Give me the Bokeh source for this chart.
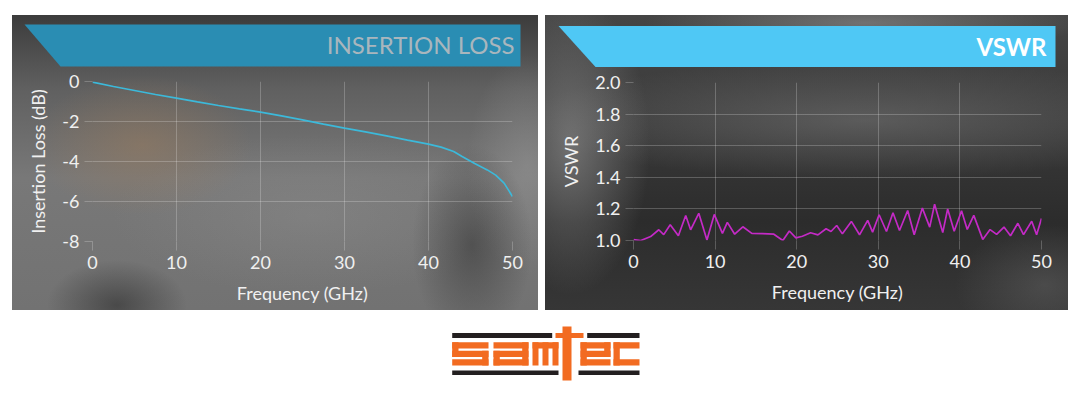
from bokeh.plotting import figure
from bokeh.models import Range1d, FixedTicker, PrintfTickFormatter, Spacer, Column, Row
from bokeh.core.properties import value
from bokeh.embed import file_html
from bokeh.resources import INLINE

# ---------------- data ----------------
freq_il = [0, 2.5, 5, 7.5, 10, 12.5, 15, 17.5, 20, 22.5, 25, 27.5, 30, 32.5,
           35, 37.5, 40, 41.5, 43, 44, 45.5, 47, 48, 49, 50]
insertion_loss = [-0.03, -0.25, -0.45, -0.65, -0.83, -1.02, -1.2, -1.37, -1.53,
                  -1.72, -1.92, -2.13, -2.33, -2.52, -2.72, -2.93, -3.13, -3.28,
                  -3.5, -3.75, -4.1, -4.42, -4.68, -5.08, -5.75]

freq_vswr = [0, 0.9, 2.1, 3.1, 3.7, 4.5, 5.5, 6.4, 7.0, 8.0, 9.0, 9.9, 10.9, 11.5,
             12.4, 13.4, 14.5, 15.8, 17.2, 18.3, 19.1, 19.9, 20.7, 21.7, 22.6, 23.6,
             24.2, 24.9, 25.6, 26.7, 27.7, 28.7, 29.3, 30.1, 31.0, 31.8, 32.6, 33.6,
             34.4, 35.4, 36.3, 36.9, 37.9, 38.5, 39.3, 40.2, 40.9, 41.7, 42.8, 43.7,
             44.5, 45.4, 46.2, 47.1, 47.8, 48.8, 49.4, 50.0]
vswr = [1.005, 1.0, 1.025, 1.068, 1.037, 1.10, 1.03, 1.158, 1.068, 1.172, 1.003,
        1.165, 1.045, 1.115, 1.04, 1.087, 1.045, 1.044, 1.04, 1.0, 1.06, 1.017,
        1.027, 1.049, 1.036, 1.074, 1.057, 1.095, 1.042, 1.121, 1.036, 1.127,
        1.053, 1.163, 1.057, 1.176, 1.063, 1.19, 1.036, 1.205, 1.085, 1.23, 1.05,
        1.2, 1.058, 1.188, 1.07, 1.159, 1.007, 1.069, 1.039, 1.085, 1.03, 1.109,
        1.037, 1.122, 1.037, 1.14]

x_ticks = [0, 10, 20, 30, 40, 50]
il_ticks = [-8, -6, -4, -2, 0]
vswr_ticks = [1.0, 1.2, 1.4, 1.6, 1.8, 2.0]
panel_titles = ["INSERTION LOSS", "VSWR"]
x_label = "Frequency (GHz)"
y_labels = ["Insertion Loss (dB)", "VSWR"]
logo_text = "samtec"

# ---------------- style ----------------
FONT = "Lato"
GRID = "rgba(255,255,255,0.22)"
LABEL = "#f0f0f0"


def no_align(p):
    if "frame_align" in p.properties():
        p.frame_align = False


def banner(width, height, pts, fill, title, tcolor, tx, ty, weight):
    p = figure(width=width, height=height, x_range=Range1d(0, width),
               y_range=Range1d(0, height), toolbar_location=None,
               output_backend="svg", min_border=0,
               x_axis_location=None, y_axis_location=None)
    no_align(p)
    p.grid.visible = False
    p.outline_line_color = None
    p.background_fill_color = None
    p.border_fill_color = None
    xs = [q[0] for q in pts]
    ys = [height - q[1] for q in pts]
    p.patch(xs, ys, fill_color=fill, line_color=None)
    p.text(x=[tx], y=[height - ty], text=[title], text_font=value(FONT),
           text_font_size="24px", text_color=tcolor, text_align="right",
           text_baseline="middle", text_font_style=weight)
    return p


def chart(width, height, xs, ys, yrange, yticks, yfmt, ylabel, color, borders):
    p = figure(width=width, height=height, x_range=Range1d(0, 50),
               y_range=Range1d(*yrange), toolbar_location=None,
               output_backend="svg",
               min_border_left=borders[0], min_border_right=borders[1],
               min_border_top=borders[2], min_border_bottom=borders[3])
    no_align(p)
    p.outline_line_color = None
    p.background_fill_color = None
    p.border_fill_color = None
    p.line(xs, ys, line_color=color, line_width=1.7)

    xa = p.xaxis[0]
    ya = p.yaxis[0]
    xa.ticker = FixedTicker(ticks=x_ticks)
    ya.ticker = FixedTicker(ticks=yticks)
    ya.formatter = PrintfTickFormatter(format=yfmt)
    xa.formatter = PrintfTickFormatter(format="%d")
    for ax, tout in ((xa, 9), (ya, 8)):
        ax.axis_line_color = None
        ax.major_tick_line_color = GRID
        ax.major_tick_out = tout
        ax.major_tick_in = 0
        ax.minor_tick_line_color = None
        ax.major_label_text_font = FONT
        ax.major_label_text_font_size = "18px"
        ax.major_label_text_color = LABEL
        ax.axis_label_text_font = FONT
        ax.axis_label_text_font_size = "18px"
        ax.axis_label_text_font_style = "normal"
        ax.axis_label_text_color = LABEL
    xa.axis_label = x_label
    xa.major_label_standoff = 5
    xa.axis_label_standoff = 10
    ya.axis_label = ylabel
    ya.major_label_standoff = 5
    ya.axis_label_standoff = 10

    p.xgrid.ticker = FixedTicker(ticks=x_ticks)
    p.ygrid.ticker = FixedTicker(ticks=yticks)
    p.grid.grid_line_color = GRID
    p.grid.grid_line_width = 1
    return p


# ---------------- left panel ----------------
LW, PH = 526, 295
LBH = 52
left_banner = banner(LW, LBH, [(12, 9), (508, 9), (508, 51), (48, 51)], "#2a8db3",
                     panel_titles[0], "#a9b6bd", 502, 29, "normal")
left_chart = chart(LW, PH - LBH, freq_il, insertion_loss, (-8, 0), il_ticks,
                   "%d", y_labels[0], "#3cb9da", (80, 26, 14, 69))
left_panel = Column(children=[left_banner, left_chart], spacing=0, styles={
    "background": (
        "radial-gradient(ellipse 110px 70px at 130px 130px, rgba(160,125,90,0.45), transparent),"
        "radial-gradient(ellipse 60px 100px at 460px 230px, rgba(45,45,45,0.5), transparent),"
        "radial-gradient(ellipse 70px 45px at 105px 290px, rgba(40,40,40,0.55), transparent),"
        "radial-gradient(ellipse 60px 110px at 515px 150px, rgba(160,160,160,0.4), transparent),"
        "radial-gradient(ellipse 200px 80px at 300px 200px, rgba(150,150,150,0.3), transparent),"
        "linear-gradient(180deg, #3c3c3c 0%, #606060 25%, #787878 55%, #727272 100%)")
})

# ---------------- right panel ----------------
RW = 523
RBH = 53
right_banner = banner(RW, RBH, [(13, 10.5), (510, 10.5), (510, 51.5), (50, 51.5)], "#4fc8f5",
                      panel_titles[1], "#ffffff", 501, 30.5, "bold")
right_chart = chart(RW, PH - RBH, freq_vswr, vswr, (1.0, 2.0), vswr_ticks,
                    "%.1f", y_labels[1], "#c42ac6", (88, 27, 14, 70))
right_panel = Column(children=[right_banner, right_chart], spacing=0, styles={
    "background": (
        "radial-gradient(ellipse 80px 150px at 25px 130px, rgba(150,150,150,0.6), transparent),"
        "radial-gradient(ellipse 340px 60px at 320px 105px, rgba(125,125,125,0.5), transparent),"
        "radial-gradient(ellipse 220px 30px at 320px 8px, rgba(150,150,150,0.55), transparent),"
        "radial-gradient(ellipse 90px 60px at 500px 270px, rgba(110,110,110,0.4), transparent),"
        "linear-gradient(180deg, #454545 0%, #3a3a3a 35%, #2c2c2c 70%, #363636 100%)")
})

# ---------------- logo ----------------
LOGO_W, LOGO_H = 200, 70
ORANGE, BLACK = "#f26b21", "#231f20"
logo = figure(width=LOGO_W, height=LOGO_H, x_range=Range1d(0, LOGO_W),
              y_range=Range1d(0, LOGO_H), toolbar_location=None, output_backend="svg",
              min_border=0, x_axis_location=None, y_axis_location=None)
no_align(logo)
logo.grid.visible = False
logo.outline_line_color = None
logo.background_fill_color = None
logo.border_fill_color = None

r1, r2, r3 = (21.7, 27.9), (30.2, 36.4), (38.7, 45.0)
bars = [(6.7, 106.7, 12.5, 17.5), (141.7, 194, 12.5, 17.5),
        (6.7, 113, 50, 54.5), (133, 194, 50, 54.5)]
shapes = [
    (110, 138, 12.5, 17.5), (117, 126, 6, 60),                      # t
    (6.7, 43, *r1), (6.7, 13, r1[0], r2[1]), (6.7, 43, *r2),
    (36.7, 43, r2[0], r3[1]), (6.7, 43, *r3),                         # s
    (48, 83, *r1), (76.7, 83, r1[0], r3[1]), (48, 83, *r2),
    (48, 54.3, r2[0], r3[1]), (48, 83, *r3),                          # a
    (87, 113, *r1), (87, 93, r1[0], r3[1]), (97, 103, r1[0], r3[1]),
    (107, 113, r1[0], r3[1]),                                         # m
    (135, 165, *r1), (135, 141.3, r1[0], r3[1]), (135, 165, *r2),
    (158.7, 165, r1[0], r2[1]), (135, 165, *r3),                      # e
    (168, 194, *r1), (168, 174.3, r1[0], r3[1]), (168, 194, *r3),     # c
]
for group, col in ((bars, BLACK), (shapes, ORANGE)):
    logo.quad(left=[g[0] for g in group], right=[g[1] for g in group],
              top=[LOGO_H - g[2] for g in group], bottom=[LOGO_H - g[3] for g in group],
              fill_color=col, line_color=None)

# ---------------- layout ----------------
layout = Column(spacing=0, children=[
    Spacer(width=1080, height=15),
    Row(spacing=0, children=[Spacer(width=12, height=PH), left_panel,
                             Spacer(width=7, height=PH), right_panel]),
    Spacer(width=1080, height=10),
    Row(spacing=0, children=[Spacer(width=445, height=LOGO_H), logo]),
])

open("out.html", "w").write(file_html(layout, INLINE, title=logo_text))
